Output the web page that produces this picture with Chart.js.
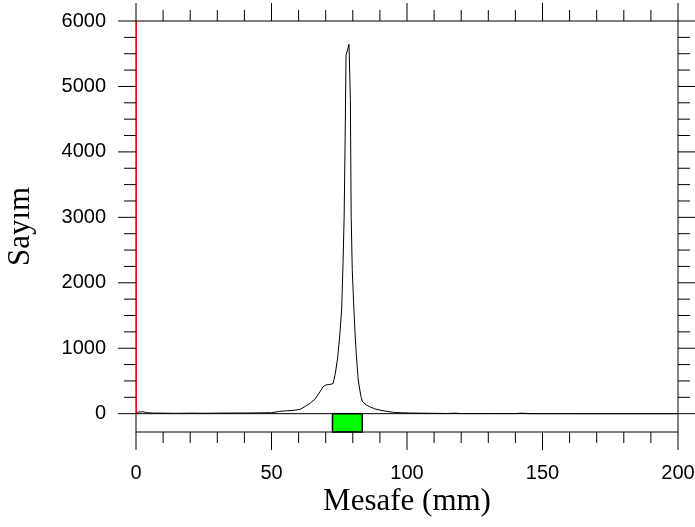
<!DOCTYPE html>
<html>
<head>
<meta charset="utf-8">
<script src="https://cdn.jsdelivr.net/npm/chart.js@4.4.0/dist/chart.umd.min.js"></script>
<style>
  html, body { margin: 0; padding: 0; background: #fff; }
</style>
</head>
<body>
<canvas id="chart" width="695" height="527"></canvas>
<script>
// Distance (mm) and count
const distance = [0, 1, 2.5, 4, 6, 10, 15, 20, 25, 30, 35, 40, 45, 50, 53, 56, 58, 60.5, 62, 64.2,
    66, 67.9, 69, 70.1, 71.5, 72.7, 73.5, 74.4, 75.2, 75.9, 76.4, 76.8, 77.2, 77.5, 78.6,
    79.1, 79.4, 79.8, 80.3, 80.8, 81.3, 82, 83, 83.6, 85, 86.3, 88, 90, 92.5, 95,
    98, 101, 105, 110, 115, 117.7, 120, 130, 140, 142.3, 145, 150, 175, 200];
const counts = [0, 25, 30, 15, 10, 8, 5, 8, 6, 8, 10, 10, 12, 15, 35, 45, 50, 66, 100, 158,
    220, 335, 410, 440, 445, 460, 600, 850, 1200, 1600, 2300, 3000, 4300, 5475, 5643,
    4800, 3000, 2200, 1700, 1250, 900, 514, 260, 182, 130, 106, 75, 55, 35, 20,
    14, 10, 8, 5, 3, 8, 2, 2, 2, 8, 1, 0, 0, 0];

const xTicks = [0, 50, 100, 150, 200];
const yTicks = [0, 1000, 2000, 3000, 4000, 5000, 6000];
const markerX = [0, 0];        // red marker line at the start
const markerY = [0, 6000];
const regionStart = 72.5;      // green region under the axis
const regionEnd = 83.5;

const xMinorStep = 10;
const yMinorStep = 250;

// draws frame, zero line, region box and all tick marks
const framePlugin = {
    id: 'frame',
    beforeDatasetsDraw(chart) {
        const { ctx, chartArea: a, scales: { x, y } } = chart;
        ctx.save();
        ctx.strokeStyle = '#000';
        ctx.lineWidth = 1;

        const y0 = y.getPixelForValue(0);

        // region rectangle
        const rx0 = x.getPixelForValue(regionStart);
        const rx1 = x.getPixelForValue(regionEnd);
        ctx.fillStyle = '#00ff00';
        ctx.fillRect(rx0, y0, rx1 - rx0, a.bottom - y0);
        ctx.lineWidth = 1.5;
        ctx.strokeRect(rx0, y0, rx1 - rx0, a.bottom - y0);
        ctx.lineWidth = 1;

        // frame
        ctx.strokeRect(a.left, a.top, a.right - a.left, a.bottom - a.top);

        // zero line
        ctx.beginPath();
        ctx.moveTo(a.left, y0);
        ctx.lineTo(a.right, y0);
        ctx.stroke();

        // x ticks top and bottom
        ctx.beginPath();
        for (let v = x.min; v <= x.max; v += xMinorStep) {
            const px = x.getPixelForValue(v);
            const len = v % 50 === 0 ? 18 : 11;
            ctx.moveTo(px, a.top);
            ctx.lineTo(px, a.top - len);
            ctx.moveTo(px, a.bottom);
            ctx.lineTo(px, a.bottom + len);
        }
        // y ticks left and right
        for (let v = 0; v <= y.max; v += yMinorStep) {
            const py = y.getPixelForValue(v);
            const len = v % 1000 === 0 ? 18 : 12;
            ctx.moveTo(a.left, py);
            ctx.lineTo(a.left - len, py);
            ctx.moveTo(a.right, py);
            ctx.lineTo(a.right + len, py);
        }
        ctx.stroke();
        ctx.restore();
    }
};

const tickFont = { family: "'Liberation Sans', Arial, sans-serif", size: 20 };
const titleFont = { family: "'Liberation Serif', 'Times New Roman', serif", size: 31 };

new Chart(document.getElementById('chart'), {
    type: 'scatter',
    data: {
        datasets: [
            {
                label: 'Sayım',
                data: distance.map((d, i) => ({ x: d, y: counts[i] })),
                showLine: true,
                borderColor: '#000',
                borderWidth: 1,
                pointRadius: 0,
                tension: 0
            },
            {
                label: 'marker',
                data: markerX.map((d, i) => ({ x: d, y: markerY[i] })),
                showLine: true,
                borderColor: '#ff0000',
                borderWidth: 2,
                pointRadius: 0
            }
        ]
    },
    options: {
        responsive: false,
        animation: false,
        layout: { padding: { top: 21, right: 17, left: 0, bottom: 0 } },
        plugins: {
            legend: { display: false },
            tooltip: { enabled: false }
        },
        scales: {
            x: {
                type: 'linear',
                min: 0,
                max: 200,
                afterBuildTicks: s => { s.ticks = xTicks.map(v => ({ value: v })); },
                afterFit: s => {
                    s.height = 95;
                    s.paddingLeft = 0;
                    s.paddingRight = 0;
                },
                grid: { display: false },
                border: { display: false },
                ticks: {
                    font: tickFont, color: '#000', padding: 21, maxRotation: 0,
                    callback: v => String(v)
                },
                title: {
                    display: true,
                    text: 'Mesafe (mm)',
                    font: titleFont,
                    color: '#000',
                    padding: { top: 0, bottom: 7 }
                }
            },
            y: {
                type: 'linear',
                min: -280,
                max: 6000,
                afterBuildTicks: s => { s.ticks = yTicks.map(v => ({ value: v })); },
                afterFit: s => {
                    s.width = 136;
                    s.paddingTop = 0;
                    s.paddingBottom = 0;
                },
                grid: { display: false },
                border: { display: false },
                ticks: {
                    font: tickFont, color: '#000', padding: 22,
                    callback: v => String(v)
                },
                title: {
                    display: true,
                    text: 'Sayım',
                    font: titleFont,
                    color: '#000',
                    padding: { top: 2, bottom: 0 }
                }
            }
        }
    },
    plugins: [framePlugin]
});
</script>
</body>
</html>
